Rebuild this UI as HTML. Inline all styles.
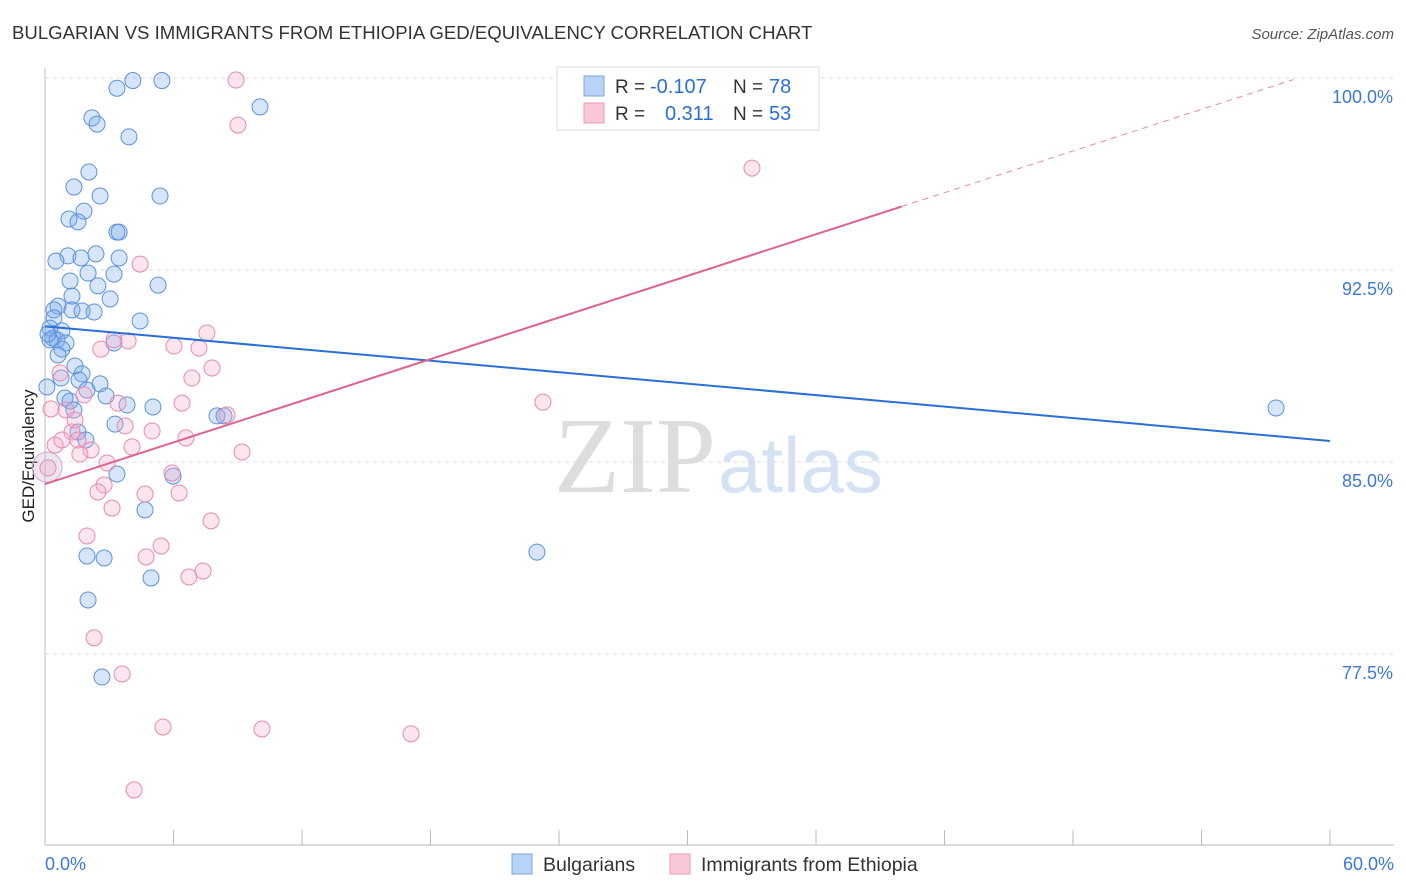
<!DOCTYPE html>
<html><head><meta charset="utf-8"><style>
body{margin:0;background:#fff;font-family:"Liberation Sans",sans-serif;}
svg{display:block}
</style></head><body>
<svg id="c" width="1406" height="892">
<text x="12" y="39" font-size="18.6" fill="#333">BULGARIAN VS IMMIGRANTS FROM ETHIOPIA GED/EQUIVALENCY CORRELATION CHART</text>
<text x="1394" y="39" font-size="15" fill="#555" font-style="italic" text-anchor="end">Source: ZipAtlas.com</text>
<text x="716" y="492" font-size="108" fill="#ddd" font-family="Liberation Serif,serif" text-anchor="end">ZIP</text>
<text x="718" y="492" font-size="78" fill="#d4e2f4">atlas</text>
<text transform="translate(34,456) rotate(-90)" font-size="17" fill="#222" text-anchor="middle">GED/Equivalency</text>
<g id="grid"></g><g id="pts"></g><g id="lines"></g>
<g>
<rect x="557" y="67" width="262" height="63" fill="#fff" stroke="#ddd"/>
<rect x="584" y="76" width="20" height="20" fill="#b8d3f5" stroke="#7aa7e0"/>
<rect x="584" y="103" width="20" height="20" fill="#f8c8d8" stroke="#eb9ab5"/>
<text x="615" y="93" font-size="19" fill="#333">R =</text>
<text x="650" y="93" font-size="20" fill="#2a6fd6">-0.107</text>
<text x="733" y="93" font-size="19" fill="#333">N =</text>
<text x="769" y="93" font-size="20" fill="#2a6fd6">78</text>
<text x="615" y="120" font-size="19" fill="#333">R =</text>
<text x="665" y="120" font-size="20" fill="#2a6fd6">0.311</text>
<text x="733" y="120" font-size="19" fill="#333">N =</text>
<text x="769" y="120" font-size="20" fill="#2a6fd6">53</text>
</g>
<g>
<rect x="512" y="854" width="20" height="20" fill="#b8d3f5" stroke="#7aa7e0"/>
<text x="543" y="871" font-size="19.5" fill="#333">Bulgarians</text>
<rect x="670" y="854" width="20" height="20" fill="#f8c8d8" stroke="#eb9ab5"/>
<text x="701" y="871" font-size="19.5" fill="#333">Immigrants from Ethiopia</text>
</g>
<text x="45" y="870" font-size="18" fill="#3b78d8">0.0%</text>
<text x="1394" y="870" font-size="18" fill="#3b78d8" text-anchor="end">60.0%</text>
</svg>
<script>
const yTicks=[100,92.5,85,77.5];
const yTickLabels=["100.0%","92.5%","85.0%","77.5%"];
const blueX=[4.1,5.46,3.36,10.04,2.19,2.43,3.92,2.05,1.35,2.57,5.37,1.82,1.12,1.54,3.36,3.46,1.07,2.38,1.68,0.51,3.46,2.01,3.22,1.17,2.47,5.28,1.26,3.04,0.61,0.42,1.26,1.73,2.29,0.42,4.44,0.23,0.79,0.37,0.56,0.98,3.22,0.79,0.61,1.4,1.73,1.59,0.75,2.57,1.96,0.09,2.85,0.93,1.17,3.83,5.04,1.35,8.03,8.36,3.27,1.54,1.91,3.36,5.98,4.67,1.96,2.76,4.95,2.01,2.66,22.97,57.48,0.23,0.14];
const blueY=[99.9,99.9,99.6,98.87,98.44,98.2,97.7,96.33,95.74,95.39,95.39,94.8,94.49,94.38,93.98,93.98,93.05,93.13,92.97,92.85,92.97,92.38,92.34,92.07,91.88,91.91,91.48,91.37,91.09,90.94,90.94,90.9,90.86,90.63,90.51,90.23,90.12,89.84,89.77,89.65,89.65,89.41,89.18,88.75,88.44,88.2,88.28,88.05,87.81,87.93,87.58,87.5,87.38,87.23,87.15,87.03,86.8,86.8,86.48,86.17,85.86,84.53,84.45,83.13,81.33,81.25,80.47,79.61,76.6,81.48,87.11,89.77,90.0];
const pinkX=[8.92,9.01,33.01,4.44,7.56,3.22,3.88,6.02,7.19,2.61,7.8,0.7,6.86,1.82,6.4,3.41,8.5,0.98,0.28,23.25,3.74,5.0,1.26,6.58,1.54,4.06,2.15,9.2,1.63,0.47,2.9,5.93,0.14,2.76,2.47,6.26,4.67,3.13,7.75,1.96,5.42,4.72,7.38,6.72,2.29,3.6,5.51,10.13,17.09,4.16,1.4,0.79];
const pinkY=[99.92,98.16,96.48,92.73,90.04,89.77,89.73,89.53,89.45,89.41,88.67,88.48,88.28,87.62,87.3,87.3,86.84,87.03,87.07,87.34,86.41,86.21,86.17,85.94,85.86,85.59,85.47,85.39,85.31,85.66,84.96,84.57,84.77,84.1,83.83,83.79,83.75,83.2,82.7,82.11,81.72,81.29,80.74,80.51,78.13,76.72,74.65,74.57,74.38,72.19,86.64,85.86];
const blueTrend=[90.3,85.82];
const pinkTrend=[84.14,100.4];
const NS="http://www.w3.org/2000/svg";
const xs=v=>45+v/60*1285, ys=v=>78+(100-v)*25.6;
function mk(t,a,p){const e=document.createElementNS(NS,t);for(const k in a)e.setAttribute(k,a[k]);document.getElementById(p).appendChild(e);return e;}
let e=mk('line',{x1:45,y1:68,x2:45,y2:845,stroke:'#bbb'},'grid');


e=mk('line',{x1:45,y1:845,x2:1394,y2:845,stroke:'#bbb'},'grid');


for(let i=0;i<=10;i++){e=mk('line',{x1:xs(i*6),y1:830,x2:xs(i*6),y2:845,stroke:'#bbb'},'grid');

}
yTicks.forEach((t,i)=>{e=mk('line',{x1:45,y1:ys(t),x2:1394,y2:ys(t),stroke:'#ddd','stroke-dasharray':'4,4'},'grid');


e=mk('text',{x:1393,y:ys(t)+25,'font-size':18,fill:'#3b78d8','text-anchor':'end'},'grid');e.textContent=yTickLabels[i];

});
e=mk('circle',{cx:xs(0.1),cy:ys(84.8),r:15,fill:'rgba(200,180,220,0.35)',stroke:'#d8a8c8'},'pts');


blueX.forEach((x,i)=>{e=mk('circle',{cx:xs(x),cy:ys(blueY[i]),r:8,fill:'rgba(120,170,235,0.3)',stroke:'#5b93dd','stroke-width':1},'pts');

});
pinkX.forEach((x,i)=>{e=mk('circle',{cx:xs(x),cy:ys(pinkY[i]),r:8,fill:'rgba(245,170,200,0.3)',stroke:'#e88aae','stroke-width':1},'pts');

});
e=mk('line',{x1:xs(0),y1:ys(blueTrend[0]),x2:xs(60),y2:ys(blueTrend[1]),stroke:'#2a6fd6','stroke-width':2},'lines');


const pf=x=>pinkTrend[0]+(pinkTrend[1]-pinkTrend[0])*x/60;
e=mk('line',{x1:xs(0),y1:ys(pf(0)),x2:xs(40),y2:ys(pf(40)),stroke:'#e0608e','stroke-width':2},'lines');


e=mk('line',{x1:xs(40),y1:ys(pf(40)),x2:xs(58.3),y2:ys(pf(58.3)),stroke:'#e88aae','stroke-width':1,'stroke-dasharray':'6,5'},'lines');


</script>
</body></html>
